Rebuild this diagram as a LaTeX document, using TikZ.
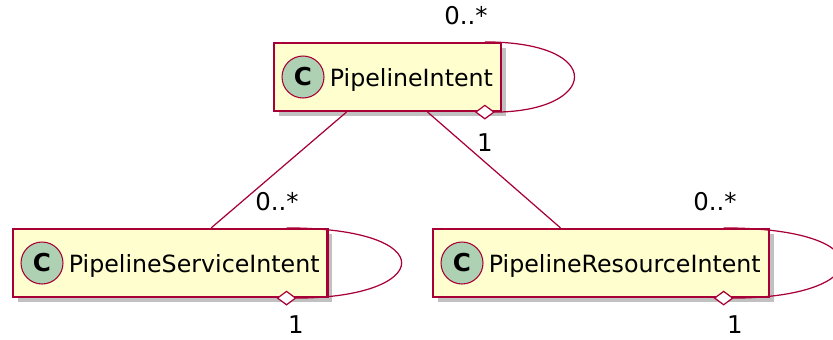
\documentclass[tikz,border=0pt]{standalone}
\usepackage{fontspec}
\setmainfont{DejaVu Sans}
\usetikzlibrary{arrows.meta,positioning,fit,backgrounds,shadows}
\definecolor{borde}{HTML}{A80036}
\definecolor{fondo}{HTML}{FEFECE}
\definecolor{verde}{HTML}{ADD1B2}

\begin{document}
\begin{tikzpicture}[x=0.02cm,y=-0.02cm,
  clase/.style={draw=borde,line width=1.2pt,fill=fondo,inner xsep=0.15cm,inner ysep=0.25cm,
    drop shadow={shadow xshift=0.1cm,shadow yshift=-0.1cm,opacity=0.35,fill=black!70}},
  icono/.style={circle,draw=borde,line width=0.6pt,fill=verde,minimum size=0.84cm,inner sep=0pt,
    font=\fontsize{14}{16}\selectfont\bfseries},
  nombre/.style={inner sep=0pt,yshift=-0.06cm,font=\fontsize{13.5}{15}\selectfont},
  mult/.style={inner sep=0pt,font=\fontsize{13.9}{16}\selectfont},
  enlace/.style={draw=borde,line width=0.7pt},
  agreg/.style={enlace,-{Diamond[length=11.4pt,width=8.5pt,fill=white]}}]
  \useasboundingbox (0,0) rectangle (833,339);
  % iconos y nombres de las clases
  \node[icono] (cPI) at (303,77) {C};
  \node[nombre,right=0.1cm of cPI] (nPI) {PipelineIntent};
  \node[icono] (cPSI) at (42,263) {C};
  \node[nombre,right=0.1cm of cPSI] (nPSI) {PipelineServiceIntent};
  \node[icono] (cPRI) at (462,263) {C};
  \node[nombre,right=0.1cm of cPRI] (nPRI) {PipelineResourceIntent};
  % cajas con sombra
  \begin{scope}[on background layer]
    \node[clase,fit=(cPI.west)(cPI.north)(cPI.south)(nPI.east)] (bPI) {};
    \node[clase,fit=(cPSI.west)(cPSI.north)(cPSI.south)(nPSI.east)] (bPSI) {};
    \node[clase,fit=(cPRI.west)(cPRI.north)(cPRI.south)(nPRI.east)] (bPRI) {};
  \end{scope}
  % asociaciones
  \draw[enlace] (bPI) -- (bPSI);
  \draw[enlace] (bPI) -- (bPRI);
  % agregaciones reflexivas
  \draw[agreg] ([xshift=-0.34cm]bPI.north east) .. controls +(123,0) and +(123,0) .. ([xshift=-0.54cm]bPI.south east);
  \draw[agreg] ([xshift=-0.84cm]bPSI.north east) .. controls +(157,0) and +(157,0) .. ([xshift=-1.04cm]bPSI.south east);
  \draw[agreg] ([xshift=-0.92cm]bPRI.north east) .. controls +(161,0) and +(161,0) .. ([xshift=-1.12cm]bPRI.south east);
  % multiplicidades
  \node[mult] (mPIa) at (466,16) {0..*};
  \node[mult] (mPIb) at (485,143) {1};
  \node[mult] (mPSIa) at (277,202) {0..*};
  \node[mult] (mPSIb) at (296,325) {1};
  \node[mult] (mPRIa) at (715,202) {0..*};
  \node[mult] (mPRIb) at (735,325) {1};
\end{tikzpicture}
\end{document}
